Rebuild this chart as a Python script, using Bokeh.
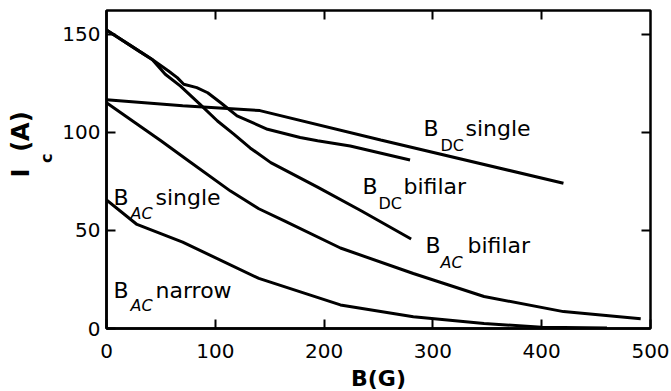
import math
from bokeh.plotting import figure
from bokeh.models import Range1d, LinearAxis, FixedTicker, Label
from bokeh.embed import file_html
from bokeh.resources import INLINE

# ---- data ----
b_dc_single = [0, 70, 141, 252, 420]
i_dc_single = [116.5, 113.5, 111, 96, 74]

b_dc_bifilar = [0, 30, 42, 57, 65, 71, 83, 93, 105, 120, 148, 178, 194, 224, 279]
i_dc_bifilar = [152, 141.3, 137, 131.2, 127.8, 124.4, 122.7, 120.1, 115, 108.3, 101.5, 97.3, 95.6, 93, 85.8]

b_ac_bifilar = [0, 30, 42, 54, 68, 86, 102, 117, 132, 151, 194, 234, 280]
i_ac_bifilar = [152, 141.3, 137, 129.5, 123.5, 114.2, 105.7, 99, 92, 84.5, 72, 60, 45.6]

b_ac_single = [0, 50, 74, 114, 140, 163, 215, 282, 347, 420, 491]
i_ac_single = [115, 95.6, 86, 70, 61, 55, 41, 28, 16.3, 8.6, 5]

b_ac_narrow = [0, 28, 70, 140, 215, 282, 347, 400, 460]
i_ac_narrow = [65.5, 53, 44, 25.5, 12, 6, 2.5, 0.7, 0.2]

x_ticks = [0, 100, 200, 300, 400, 500]
y_ticks = [0, 50, 100, 150]

FONT = "DejaVu Sans"
NB = "\u00a0"

# ---- layout ----
X0, X1 = 0, 500
Y0, Y1 = 0, 162
FW, FH = 544, 318
BL, BT = 106, 10

p = figure(width=671, height=391, frame_width=FW, frame_height=FH,
           x_range=Range1d(X0, X1), y_range=Range1d(Y0, Y1),
           output_backend="svg", toolbar_location=None,
           min_border_left=BL, min_border_top=BT, min_border_right=21, min_border_bottom=63)

p.background_fill_color = "white"
p.border_fill_color = "white"
p.outline_line_color = "black"
p.outline_line_width = 2.5
p.xgrid.visible = False
p.ygrid.visible = False

for ax, ticks in ((p.xaxis[0], x_ticks), (p.yaxis[0], y_ticks)):
    ax.ticker = FixedTicker(ticks=ticks)
    ax.major_tick_in = 9
    ax.major_tick_out = 0
    ax.major_tick_line_width = 2
    ax.major_tick_line_color = "black"
    ax.minor_tick_line_color = None
    ax.axis_line_width = 2.5
    ax.axis_line_color = "black"
    ax.major_label_text_font = FONT
    ax.major_label_text_font_size = "20px"
    ax.major_label_text_color = "black"

p.xaxis[0].major_label_standoff = 15
p.yaxis[0].major_label_standoff = 6
p.xaxis[0].axis_label = "B(G)"
p.xaxis[0].axis_label_text_font = FONT
p.xaxis[0].axis_label_text_font_size = "22px"
p.xaxis[0].axis_label_text_font_style = "bold"
p.xaxis[0].axis_label_text_color = "black"
p.xaxis[0].axis_label_standoff = 5

# y label: subscript "c" on the inner axis, "I (A)" on an outer label-only axis
p.yaxis[0].axis_label = NB * 4 + "c"
p.yaxis[0].axis_label_text_font = FONT
p.yaxis[0].axis_label_text_font_size = "16px"
p.yaxis[0].axis_label_text_font_style = "bold"
p.yaxis[0].axis_label_text_color = "black"
p.yaxis[0].axis_label_standoff = 3

outer = LinearAxis(ticker=FixedTicker(ticks=[]))
outer.axis_line_color = None
outer.major_tick_line_color = None
outer.minor_tick_line_color = None
outer.major_label_text_font_size = "1px"
outer.major_label_text_color = None
outer.major_label_standoff = 0
outer.axis_label = NB * 6 + "I" + NB * 2 + "(A)"
outer.axis_label_text_font = FONT
outer.axis_label_text_font_size = "24px"
outer.axis_label_text_font_style = "bold"
outer.axis_label_text_color = "black"
outer.axis_label_standoff = 0
p.add_layout(outer, "left")

top_ax = LinearAxis(ticker=FixedTicker(ticks=[100, 200, 300, 400]))
right_ax = LinearAxis(ticker=FixedTicker(ticks=[50, 100, 150]))
for ax in (top_ax, right_ax):
    ax.major_tick_in = 9
    ax.major_tick_out = 0
    ax.major_tick_line_width = 2
    ax.minor_tick_line_color = None
    ax.axis_line_color = None
    ax.major_label_text_font_size = "1px"
    ax.major_label_text_color = None
    ax.major_label_standoff = 0
p.add_layout(top_ax, "above")
p.add_layout(right_ax, "right")

for bx, iy in ((b_dc_single, i_dc_single), (b_dc_bifilar, i_dc_bifilar),
               (b_ac_bifilar, i_ac_bifilar), (b_ac_single, i_ac_single),
               (b_ac_narrow, i_ac_narrow)):
    p.line(bx, iy, line_color="black", line_width=3)

SX = FW / (X1 - X0)
SY = FH / (Y1 - Y0)
FRAME_LEFT = BL
FRAME_BOTTOM = BT + FH


def to_data(px, py):
    return (px - FRAME_LEFT) / SX + X0, (FRAME_BOTTOM - py) / SY + Y0


def put(text, px, py, size, style="normal"):
    x, y = to_data(px, py)
    p.add_layout(Label(x=x, y=y, text=text, text_font=FONT, text_font_size=size,
                       text_font_style=style, text_color="black",
                       text_align="left", text_baseline="alphabetic"))


curve_labels = [
    ("AC", "single", (113, 197), (130, 213), (155, 197), "italic"),
    ("AC", "narrow", (113, 290), (130, 305), (155, 290), "italic"),
    ("DC", "single", (423, 128), (440, 145), (465, 128), "normal"),
    ("DC", "bifilar", (362, 186), (378, 203), (403, 186), "normal"),
    ("AC", "bifilar", (425, 245), (440, 262), (467, 245), "italic"),
]
for sub, rest, pb, ps, pr, sstyle in curve_labels:
    put("B", pb[0], pb[1], "22px")
    put(sub, ps[0], ps[1], "16px", style=sstyle)
    put(rest, pr[0], pr[1], "22px")

open("out.html", "w").write(file_html(p, INLINE))
